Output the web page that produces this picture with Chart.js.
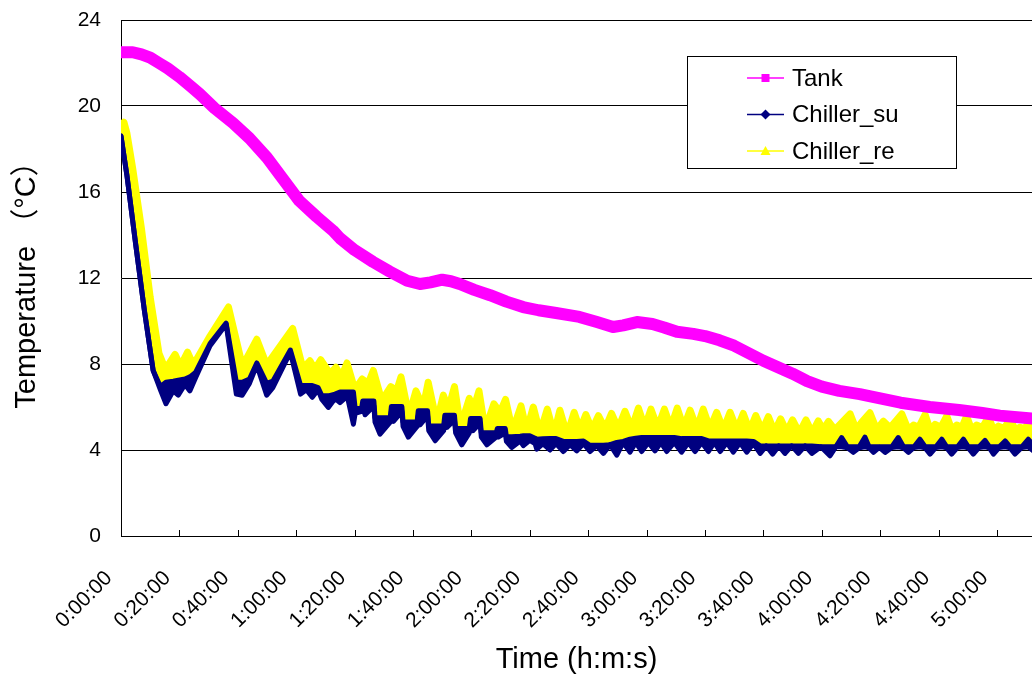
<!DOCTYPE html>
<html>
<head>
<meta charset="utf-8">
<title>Tank and chiller temperature</title>
<script src="https://cdn.jsdelivr.net/npm/chart.js@4.4.1/dist/chart.umd.min.js"></script>
<style>
  html, body { margin: 0; padding: 0; background: #fff; }
  #wrap { width: 1032px; height: 677px; }
</style>
</head>
<body>
<div id="wrap"><canvas id="tempChart" width="1032" height="677"></canvas></div>
<script>
// --- data (time in minutes, temperature in degC) ---

const xTickMinutes = [0, 20, 40, 60, 80, 100, 120, 140, 160, 180, 200, 220, 240, 260, 280, 300];
const xTickLabels = ['0:00:00', '0:20:00', '0:40:00', '1:00:00', '1:20:00', '1:40:00', '2:00:00', '2:20:00',
    '2:40:00', '3:00:00', '3:20:00', '3:40:00', '4:00:00', '4:20:00', '4:40:00', '5:00:00'];
const yTickValues = [0, 4, 8, 12, 16, 20, 24];

const tankTime = [0, 4, 7, 10, 13, 16, 20, 24, 27, 32,
    38.4, 44, 50, 55.5, 61, 67, 72.6, 75, 80, 86.3,
    92, 98, 102.4, 106, 110, 113, 116, 121, 126.4, 132,
    137.7, 143, 149, 157, 163, 168.5, 172, 176.7, 182, 186,
    190.4, 196, 200, 205, 210, 215, 220, 225, 230, 235,
    240, 246, 253, 260, 267, 277, 287, 295, 301, 313];
const tankTemp = [22.5, 22.5, 22.4, 22.25, 22.0, 21.75, 21.35, 20.9, 20.55, 19.9,
    19.2, 18.5, 17.6, 16.6, 15.6, 14.85, 14.2, 13.85, 13.3, 12.75,
    12.3, 11.87, 11.72, 11.8, 11.92, 11.85, 11.72, 11.45, 11.2, 10.9,
    10.65, 10.5, 10.37, 10.19, 9.95, 9.72, 9.8, 9.95, 9.86, 9.7,
    9.5, 9.4, 9.3, 9.1, 8.85, 8.5, 8.15, 7.85, 7.55, 7.2,
    6.95, 6.75, 6.6, 6.4, 6.2, 6.0, 5.86, 5.72, 5.6, 5.45];

// Chiller supply swings fast, so it is kept as an upper and a lower envelope
const suTime = [0, 2, 5, 8, 11, 13.5, 15.4, 17.9, 19.6, 21.9,
    23.6, 25.5, 30.5, 36, 39.5, 41.5, 44, 46.5, 49.9, 52,
    58, 61.5, 63.5, 65.5, 67.5, 68.8, 71, 73.3, 75, 77.5,
    79.6, 80.2, 82.4, 82.8, 83.6, 86.6, 87, 88.7, 92.2, 92.6,
    93.3, 96.2, 96.6, 98.4, 101.4, 101.8, 102.4, 105, 105.4, 107.6,
    110.5, 110.9, 111.6, 114.2, 114.6, 116.7, 119.3, 119.7, 120.5, 123,
    123.4, 125.3, 128.5, 128.9, 129.2, 131.6, 132, 133.8, 136.7, 137.8,
    140, 141.8, 142.4, 144.5, 146.9, 149, 151.5, 153.8, 156.1, 158.4,
    160.6, 162.9, 165.2, 167.5, 169.8, 172, 174.3, 176.3, 178.3, 180.6,
    182.9, 184.9, 186.9, 189.5, 192, 194.3, 196.6, 198.9, 201.2, 203.2,
    205.2, 207.5, 209.7, 212, 214.3, 216.6, 218.9, 221, 223.2, 225.3,
    227.4, 229.7, 232, 234.3, 236.6, 239.7, 242.8, 244.8, 246.8, 248.8,
    250.8, 252.8, 254.8, 256.2, 257.7, 259.7, 261.7, 264, 266.2, 268,
    269.7, 271.6, 273.6, 275.4, 277.1, 279.1, 281.1, 282.8, 284.5, 286.5,
    288.5, 290.2, 291.9, 293.9, 295.9, 297.4, 298.8, 300.8, 302.8, 304.5,
    306.2, 308.5, 310.7, 313];
const suHigh = [18.6, 16.8, 13.6, 10.5, 7.7, 6.95, 7.15, 7.2, 7.25, 7.3,
    7.4, 7.6, 8.95, 9.9, 7.15, 7.15, 7.3, 8.05, 7.1, 7.2,
    8.65, 7.0, 7.0, 7.0, 6.9, 6.52, 6.52, 6.6, 6.7, 6.7,
    6.7, 5.93, 5.93, 6.28, 6.28, 6.28, 5.5, 5.5, 5.5, 6.02,
    6.02, 6.02, 5.3, 5.3, 5.3, 5.82, 5.82, 5.82, 5.12, 5.12,
    5.12, 5.62, 5.62, 5.62, 5.0, 5.0, 5.0, 5.46, 5.46, 5.46,
    4.8, 4.8, 4.8, 5.0, 5.0, 5.0, 4.62, 4.62, 4.64, 4.66,
    4.66, 4.55, 4.5, 4.52, 4.53, 4.53, 4.4, 4.4, 4.4, 4.42,
    4.22, 4.22, 4.22, 4.25, 4.35, 4.4, 4.5, 4.55, 4.58, 4.58,
    4.58, 4.58, 4.58, 4.58, 4.53, 4.53, 4.53, 4.53, 4.42, 4.42,
    4.42, 4.42, 4.42, 4.42, 4.42, 4.4, 4.19, 4.19, 4.19, 4.19,
    4.19, 4.19, 4.19, 4.19, 4.19, 4.15, 4.15, 4.15, 4.58, 4.15,
    4.15, 4.15, 4.6, 4.15, 4.15, 4.15, 4.15, 4.15, 4.58, 4.15,
    4.15, 4.15, 4.5, 4.15, 4.15, 4.15, 4.5, 4.15, 4.15, 4.15,
    4.5, 4.15, 4.15, 4.15, 4.45, 4.15, 4.15, 4.15, 4.42, 4.15,
    4.15, 4.15, 4.5, 4.15];
const suLow = [18.6, 16.8, 13.6, 10.5, 7.7, 6.8, 6.15, 6.75, 6.55, 7.05,
    6.75, 7.35, 8.85, 9.85, 6.6, 6.55, 7.1, 7.95, 6.55, 6.9,
    8.55, 6.6, 6.8, 6.45, 6.8, 6.35, 5.98, 6.4, 6.2, 6.5,
    5.2, 5.7, 5.8, 6.0, 5.64, 6.05, 5.3, 4.74, 5.3, 5.8,
    5.33, 5.8, 5.1, 4.6, 5.1, 5.6, 5.17, 5.6, 4.9, 4.43,
    4.9, 5.4, 5.05, 5.4, 4.8, 4.24, 4.8, 5.25, 4.9, 5.25,
    4.6, 4.24, 4.6, 4.8, 4.6, 4.8, 4.4, 4.12, 4.42, 4.2,
    4.45, 4.3, 4.04, 4.3, 4.0, 4.3, 3.93, 4.25, 3.96, 4.3,
    3.93, 4.2, 3.84, 4.25, 3.76, 4.35, 3.9, 4.35, 3.93, 4.35,
    3.96, 4.35, 3.93, 4.35, 3.9, 4.35, 3.93, 4.35, 3.93, 4.35,
    3.93, 4.35, 3.9, 4.35, 3.9, 4.3, 3.84, 4.19, 3.81, 4.19,
    3.84, 4.19, 3.84, 4.19, 3.84, 4.15, 3.73, 4.15, 4.15, 4.1,
    3.89, 4.1, 4.15, 4.1, 3.89, 4.12, 3.89, 4.12, 4.15, 4.1,
    3.89, 4.12, 4.15, 4.1, 3.81, 4.12, 4.15, 4.1, 3.81, 4.12,
    4.15, 4.1, 3.81, 4.12, 4.15, 4.1, 3.81, 4.12, 4.15, 4.1,
    3.81, 4.12, 4.15, 3.9];

// Chiller return: top edge of the yellow band (peaks and dips)
const reTime = [0, 1, 2, 4, 7, 10, 13, 15.2, 18.5, 20.4,
    22.8, 24.8, 30.5, 36.8, 41.6, 46.5, 49.9, 58.8, 62.3, 64.7,
    66.4, 68.4, 71.6, 73.6, 75.5, 77.4, 80.1, 82.6, 84.7, 86.4,
    89.3, 92.4, 94.4, 95.9, 98.6, 101, 103.5, 105.2, 108.1, 110.4,
    112.1, 114.2, 116.3, 119.3, 120.7, 122.6, 124.7, 127.7, 129.8, 131.7,
    134.1, 137, 138.9, 141.2, 143.5, 146, 148.3, 150.3, 152.8, 155.2,
    157.2, 159.2, 161.3, 163.5, 165.8, 168, 170.3, 172.6, 174.9, 177.2,
    179.4, 181.5, 183.8, 186.1, 188.3, 190.5, 192.7, 194.9, 197.2, 199.4,
    201.7, 204, 206.3, 208.6, 210.9, 213.1, 215.3, 217.4, 219.6, 221.7,
    223.8, 225.9, 228, 230, 232.3, 234.6, 236.7, 238.8, 240.5, 242.3,
    244.5, 249.7, 251.8, 253.7, 256.5, 258.8, 261.1, 263.4, 267.4, 269.6,
    271.4, 273.2, 275.4, 277.1, 278.8, 280.8, 282.8, 284.5, 286.2, 288,
    289.6, 291.3, 293, 295, 297.1, 298.8, 300.5, 302.5, 304.5, 306.2,
    307.9, 309.6, 311.3, 313];
const reHigh = [18.95, 19.25, 18.75, 17.1, 14.3, 11.1, 8.5, 7.75, 8.45, 7.9,
    8.55, 7.95, 9.3, 10.65, 7.9, 9.15, 7.95, 9.65, 7.8, 8.15,
    7.75, 8.2, 7.55, 7.85, 7.4, 8.05, 6.8, 7.3, 7.1, 7.7,
    6.3, 6.95, 6.75, 7.4, 5.6, 6.75, 6.0, 7.15, 5.3, 6.55,
    5.9, 6.95, 5.1, 6.4, 5.9, 6.75, 4.95, 6.15, 5.75, 6.35,
    4.9, 6.05, 4.9, 6.0, 4.8, 5.9, 4.75, 5.85, 4.7, 5.75,
    4.95, 5.65, 4.95, 5.6, 5.0, 5.7, 5.0, 5.8, 5.0, 5.95,
    5.05, 5.9, 5.05, 5.9, 5.05, 5.95, 5.05, 5.85, 5.0, 5.9,
    5.0, 5.75, 4.95, 5.75, 4.95, 5.7, 4.9, 5.6, 4.9, 5.55,
    4.85, 5.45, 4.85, 5.4, 4.8, 5.4, 4.8, 5.35, 4.95, 5.33,
    4.95, 5.68, 4.95, 5.3, 5.73, 4.95, 5.34, 5.03, 5.68, 4.95,
    5.16, 5.05, 5.65, 4.95, 5.19, 5.05, 5.58, 4.95, 5.16, 5.05,
    5.58, 4.95, 5.16, 5.05, 5.53, 4.95, 5.11, 5.0, 5.47, 4.95,
    5.06, 4.98, 5.47, 5.0];

const legendNames = ['Tank', 'Chiller_su', 'Chiller_re'];

const FONT = '"Liberation Sans", Arial, "Noto Sans CJK SC", sans-serif';

function toXY(xs, ys) {
    return xs.map((x, i) => ({ x: x, y: ys[i] }));
}

// small tick marks pointing up into the plot, like the original
const innerTicks = {
    id: 'innerTicks',
    afterDraw(chart) {
        const { ctx, chartArea, scales } = chart;
        ctx.save();
        ctx.strokeStyle = '#000';
        ctx.lineWidth = 1;
        xTickMinutes.forEach(m => {
            const px = Math.round(scales.x.getPixelForValue(m)) + 0.5;
            ctx.beginPath();
            ctx.moveTo(px, chartArea.bottom);
            ctx.lineTo(px, chartArea.bottom - 6);
            ctx.stroke();
        });
        ctx.restore();
    }
};

function drawMarker(ctx, style, x, y) {
    ctx.beginPath();
    if (style === 'rect') {
        ctx.rect(x - 4, y - 4, 8, 8);
    } else if (style === 'diamond') {
        ctx.moveTo(x, y - 5); ctx.lineTo(x + 5, y); ctx.lineTo(x, y + 5); ctx.lineTo(x - 5, y);
        ctx.closePath();
    } else {
        ctx.moveTo(x, y - 5); ctx.lineTo(x + 5, y + 4); ctx.lineTo(x - 5, y + 4);
        ctx.closePath();
    }
    ctx.fill();
}

// boxed legend sitting inside the plot area (top right)
const boxLegend = {
    id: 'boxLegend',
    afterDraw(chart) {
        const ctx = chart.ctx;
        const bx = 687, by = 56, bw = 269, bh = 112;
        ctx.save();
        ctx.fillStyle = '#fff';
        ctx.fillRect(bx, by, bw, bh);
        ctx.strokeStyle = '#000';
        ctx.lineWidth = 1;
        ctx.strokeRect(bx + 0.5, by + 0.5, bw, bh);
        ctx.font = '24px ' + FONT;
        ctx.textBaseline = 'middle';
        legendNames.forEach((name, i) => {
            const ds = chart.data.datasets.find(d => d.label === name);
            const cy = 78 + i * 36.5;
            ctx.strokeStyle = ds.borderColor;
            ctx.lineWidth = 1.5;
            ctx.beginPath();
            ctx.moveTo(747, cy);
            ctx.lineTo(784, cy);
            ctx.stroke();
            ctx.fillStyle = ds.borderColor;
            drawMarker(ctx, ds.marker, 765.5, cy);
            ctx.fillStyle = '#000';
            ctx.fillText(name, 792, cy + 1);
        });
        ctx.restore();
    }
};

const ctx = document.getElementById('tempChart');

new Chart(ctx, {
    type: 'line',
    data: {
        datasets: [
            {
                label: 'Tank',
                data: toXY(tankTime, tankTemp),
                borderColor: '#ff00ff',
                borderWidth: 12,
                fill: false,
                order: 0,
                marker: 'rect'
            },
            {
                label: 'Chiller_su',
                data: toXY(suTime, suHigh),
                borderColor: '#000080',
                backgroundColor: '#000080',
                borderWidth: 5,
                fill: '+1',
                order: 1,
                marker: 'diamond'
            },
            {
                label: 'Chiller_su low',
                data: toXY(suTime, suLow),
                borderColor: '#000080',
                borderWidth: 5,
                fill: false,
                order: 2
            },
            {
                label: 'Chiller_re',
                data: toXY(reTime, reHigh),
                borderColor: '#ffff00',
                backgroundColor: '#ffff00',
                borderWidth: 7,
                fill: 2,
                order: 3,
                marker: 'triangle'
            }
        ]
    },
    options: {
        responsive: false,
        devicePixelRatio: 1,
        animation: false,
        layout: { padding: { top: 20, right: 0, bottom: 0, left: 0 } },
        elements: {
            line: { tension: 0, borderJoinStyle: 'round', borderCapStyle: 'round' },
            point: { radius: 0, hoverRadius: 0 }
        },
        plugins: {
            legend: { display: false },
            tooltip: { enabled: false }
        },
        scales: {
            x: {
                type: 'linear',
                min: 0,
                max: 312,
                afterBuildTicks: s => { s.ticks = xTickMinutes.map(v => ({ value: v })); },
                afterFit: s => { s.height = 141; s.paddingLeft = 0; s.paddingRight = 0; },
                ticks: {
                    autoSkip: false,
                    minRotation: 45,
                    maxRotation: 45,
                    padding: 30,
                    labelOffset: -12,
                    color: '#000',
                    font: { family: FONT, size: 21 },
                    callback: (v, i) => xTickLabels[i]
                },
                grid: { display: true, drawOnChartArea: false, drawTicks: false },
                border: { color: '#000', width: 1 },
                title: {
                    display: true,
                    text: 'Time (h:m:s)',
                    color: '#000',
                    font: { family: FONT, size: 29 },
                    padding: { top: 0, bottom: 0 }
                }
            },
            y: {
                min: 0,
                max: 24,
                afterBuildTicks: s => { s.ticks = yTickValues.map(v => ({ value: v })); },
                afterFit: s => { s.width = 121; s.paddingTop = 0; s.paddingBottom = 0; },
                ticks: {
                    padding: 20,
                    color: '#000',
                    font: { family: FONT, size: 21 }
                },
                grid: { color: '#000', lineWidth: 1, drawTicks: false },
                border: { color: '#000', width: 1 },
                title: {
                    display: true,
                    text: 'Temperature （°C）',
                    color: '#000',
                    font: { family: FONT, size: 29 },
                    padding: { top: 10, bottom: 0 }
                }
            }
        }
    },
    plugins: [innerTicks, boxLegend]
});
</script>
</body>
</html>
